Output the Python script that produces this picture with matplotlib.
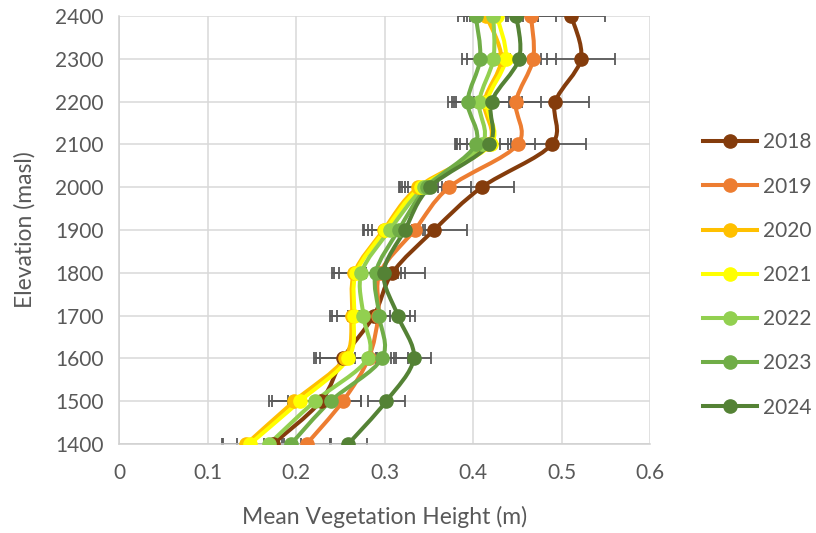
import matplotlib
matplotlib.use("Agg")
import matplotlib.pyplot as plt
import numpy as np
from matplotlib.path import Path
from matplotlib.patches import PathPatch
from matplotlib.lines import Line2D

plt.rcParams['font.family'] = ['Lato', 'DejaVu Sans']

# elevation bands (masl)
elevation = [1400, 1500, 1600, 1700, 1800, 1900, 2000, 2100, 2200, 2300, 2400]

years = ['2018', '2019', '2020', '2021', '2022', '2023', '2024']

# mean vegetation height (m) per band
h2018 = [0.174, 0.228, 0.253, 0.288, 0.309, 0.356, 0.410, 0.489, 0.493, 0.522, 0.511]
h2019 = [0.212, 0.253, 0.282, 0.293, 0.295, 0.334, 0.373, 0.4505, 0.4486, 0.468, 0.4655]
h2020 = [0.144, 0.198, 0.255, 0.263, 0.266, 0.299, 0.338, 0.417, 0.413, 0.432, 0.415]
h2021 = [0.148, 0.2045, 0.259, 0.2655, 0.268, 0.301, 0.341, 0.420, 0.416, 0.437, 0.427]
h2022 = [0.1695, 0.2215, 0.281, 0.276, 0.274, 0.306, 0.345, 0.410, 0.407, 0.423, 0.423]
h2023 = [0.1944, 0.239, 0.297, 0.294, 0.290, 0.316, 0.348, 0.403, 0.394, 0.408, 0.403]
h2024 = [0.259, 0.302, 0.333, 0.315, 0.299, 0.323, 0.351, 0.418, 0.421, 0.452, 0.449]

# error (m), symmetric
e2018 = [0.010, 0.025, 0.030, 0.025, 0.037, 0.037, 0.036, 0.039, 0.038, 0.038, 0.038]
e2019 = [0.026, 0.020, 0.025, 0.022, 0.028, 0.022, 0.025, 0.020, 0.028, 0.026, 0.028]
e2020 = [0.028, 0.028, 0.035, 0.025, 0.025, 0.022, 0.022, 0.035, 0.035, 0.025, 0.025]
e2021 = [0.031, 0.032, 0.032, 0.025, 0.025, 0.025, 0.024, 0.035, 0.035, 0.030, 0.030]
e2022 = [0.036, 0.030, 0.030, 0.030, 0.025, 0.025, 0.025, 0.030, 0.035, 0.030, 0.030]
e2023 = [0.045, 0.035, 0.030, 0.035, 0.025, 0.030, 0.025, 0.022, 0.018, 0.020, 0.020]
e2024 = [0.021, 0.021, 0.020, 0.019, 0.020, 0.020, 0.025, 0.025, 0.020, 0.025, 0.025]

heights = [h2018, h2019, h2020, h2021, h2022, h2023, h2024]
errors = [e2018, e2019, e2020, e2021, e2022, e2023, e2024]
colors = ['#843C0C', '#ED7D31', '#FFC000', '#FFFF00', '#92D050', '#70AD47', '#548235']

grey = '#595959'


def smooth_path(xs, ys):
    # bezier through the points, excel style smoothing
    p = np.column_stack([xs, ys])
    n = len(p)
    verts = [p[0]]
    codes = [Path.MOVETO]
    for i in range(n - 1):
        p0 = p[i - 1] if i > 0 else p[i]
        p3 = p[i + 2] if i + 2 < n else p[i + 1]
        c1 = p[i] + (p[i + 1] - p0) / 6
        c2 = p[i + 1] - (p3 - p[i]) / 6
        verts += [c1, c2, p[i + 1]]
        codes += [Path.CURVE4] * 3
    return Path(verts, codes)


fig = plt.figure(figsize=(8.16, 5.33), dpi=100)
ax = fig.add_axes([119 / 816, 1 - 444 / 533, (650 - 119) / 816, (444 - 16) / 533])

for h, e, c in zip(heights, errors, colors):
    ax.errorbar(h, elevation, xerr=e, fmt='none', ecolor=grey, elinewidth=1.3,
                capsize=4, capthick=1.3, zorder=2)

for h, c in zip(heights, colors):
    ax.add_patch(PathPatch(smooth_path(h, elevation), facecolor='none', edgecolor=c,
                           lw=2.9, zorder=3, capstyle='round', joinstyle='round'))
    ax.plot(h, elevation, 'o', color=c, ms=9.5, zorder=4)

ax.set_xlim(0, 0.6)
ax.set_ylim(1400, 2400)
ax.set_xticks(np.arange(0, 0.61, 0.1))
ax.set_xticklabels(['0', '0.1', '0.2', '0.3', '0.4', '0.5', '0.6'])
ax.set_yticks(elevation)
ax.grid(True, color='#D9D9D9', lw=1.1)
ax.set_axisbelow(True)
for s in ['top', 'right']:
    ax.spines[s].set_visible(False)
for s in ['left', 'bottom']:
    ax.spines[s].set_color('#D0D0D0')
    ax.spines[s].set_linewidth(1.1)
ax.tick_params(axis='y', length=0, labelsize=15, labelcolor=grey, pad=11)
ax.tick_params(axis='x', length=0, labelsize=15, labelcolor=grey, pad=14)
ax.set_xlabel('Mean Vegetation Height (m)', fontsize=16.5, color=grey, labelpad=16)
ax.set_ylabel('Elevation (masl)', fontsize=16.5, color=grey, labelpad=14)

handles = [Line2D([], [], color=c, lw=2.9, marker='o', ms=9.5) for c in colors]
leg = fig.legend(handles, years, loc='center left', bbox_to_anchor=(703 / 816, 1 - 275 / 533),
                 frameon=False, fontsize=15, handlelength=2.6, handletextpad=0.3,
                 labelspacing=1.16, borderpad=0, borderaxespad=0)
for t in leg.get_texts():
    t.set_color(grey)

fig.savefig('out.png', dpi=100)
